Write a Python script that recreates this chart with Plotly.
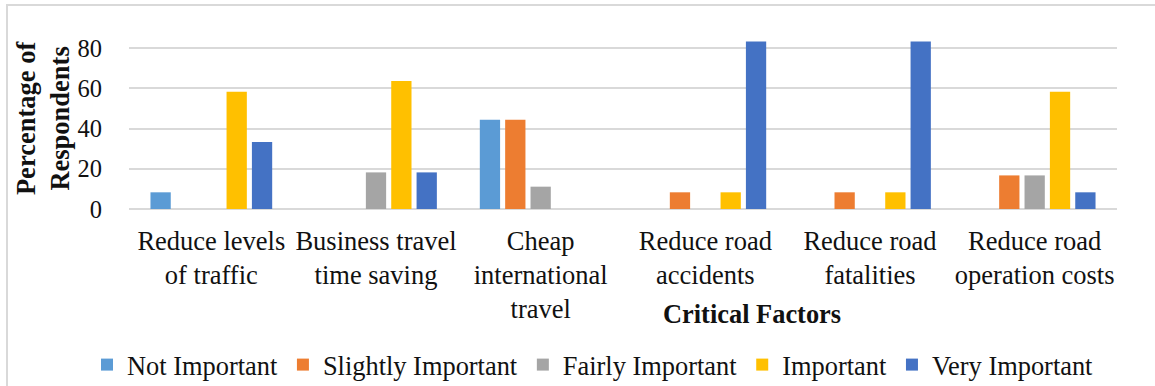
import plotly.graph_objects as go

# Survey results: share of respondents rating each critical factor
categories = [
    "Reduce levels<br>of traffic",
    "Business travel<br>time saving",
    "Cheap<br>international<br>travel",
    "Reduce road<br>accidents",
    "Reduce road<br>fatalities",
    "Reduce road<br>operation costs",
]

not_important = [8.3, 0, 44.4, 0, 0, 0]
slightly_important = [0, 0, 44.4, 8.3, 8.3, 16.7]
fairly_important = [0, 18.2, 11.1, 0, 0, 16.7]
important = [58.3, 63.6, 0, 8.3, 8.3, 58.3]
very_important = [33.3, 18.2, 0, 83.3, 83.3, 8.3]

series = [
    ("Not Important", not_important, "#5B9BD5"),
    ("Slightly Important", slightly_important, "#ED7D31"),
    ("Fairly Important", fairly_important, "#A5A5A5"),
    ("Important", important, "#FFC000"),
    ("Very Important", very_important, "#4472C4"),
]

y_ticks = [0, 20, 40, 60, 80]

FONT = "Liberation Serif, Times New Roman, serif"
INK = "#111111"

fig = go.Figure()
for name, values, color in series:
    fig.add_trace(go.Bar(
        x=categories, y=values, name=name,
        marker=dict(color=color, line=dict(width=0)),
    ))

fig.update_layout(
    width=1155, height=386,
    margin=dict(l=129, r=38, t=32, b=177, autoexpand=False),
    paper_bgcolor="white", plot_bgcolor="white",
    barmode="group", bargap=0.23, bargroupgap=0.2,
    font=dict(family=FONT, color=INK, size=26),
    showlegend=True,
    legend=dict(
        orientation="h", x=-0.0425, xanchor="left", y=-0.881, yanchor="middle",
        font=dict(family=FONT, size=26.4, color=INK),
        itemwidth=30, tracegroupgap=0,
    ),
    xaxis=dict(
        showgrid=False, showline=False, zeroline=False, ticks="",
        tickfont=dict(family=FONT, size=26.5, color=INK), ticklabelstandoff=13,
        automargin=False,
    ),
    yaxis=dict(
        range=[0, 88], tickvals=y_ticks, showgrid=True,
        gridcolor="#D9D9D9", gridwidth=1.5, zeroline=True,
        zerolinecolor="#D9D9D9", zerolinewidth=1.5, showline=False,
        ticks="", tickfont=dict(family=FONT, size=24.5, color=INK),
        ticklabelstandoff=26, automargin=False,
    ),
    annotations=[
        dict(text="<b>Critical Factors</b>", xref="paper", yref="paper",
             x=0.6306, y=-0.593, xanchor="center", yanchor="middle",
             showarrow=False, font=dict(family=FONT, size=26.4, color=INK)),
        dict(text="<b>Percentage of<br>Respondents</b>", xref="paper", yref="paper",
             x=-0.087, y=0.514, xanchor="center", yanchor="middle",
             textangle=-90, showarrow=False,
             font=dict(family=FONT, size=26.5, color=INK)),
    ],
    shapes=[
        dict(type="rect", xref="paper", yref="paper",
             x0=-122 / 988, x1=1.2, y0=-1.5, y1=1 + 27 / 177,
             line=dict(color="#D9D9D9", width=2), fillcolor="rgba(0,0,0,0)",
             layer="below"),
    ],
)

fig.write_html("out.html")
